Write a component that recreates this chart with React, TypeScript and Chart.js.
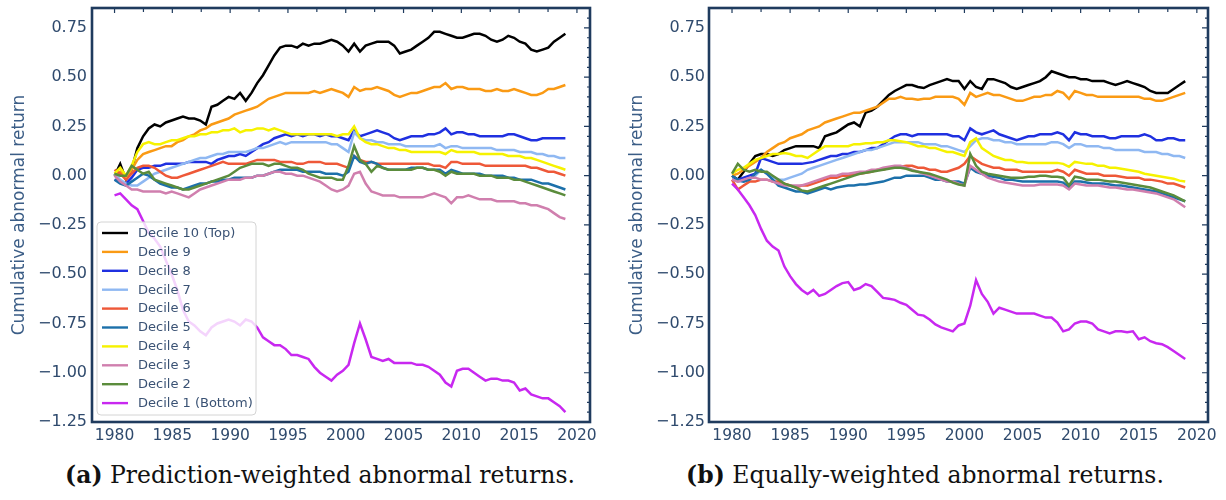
import React, { useEffect, useRef } from 'react';
import { Chart, registerables } from 'chart.js';
Chart.register(...registerables);

// ---------- categories / labels ----------
const yearsLeft = [
  1980.00, 1980.49, 1980.99, 1981.48, 1981.97, 1982.47, 1982.96, 1983.46, 1983.95, 1984.44,
  1984.94, 1985.43, 1985.92, 1986.42, 1986.91, 1987.41, 1987.90, 1988.39, 1988.89, 1989.38,
  1989.87, 1990.37, 1990.86, 1991.35, 1991.85, 1992.34, 1992.84, 1993.33, 1993.82, 1994.32,
  1994.81, 1995.30, 1995.80, 1996.29, 1996.78, 1997.28, 1997.77, 1998.27, 1998.76, 1999.25,
  1999.75, 2000.24, 2000.73, 2001.23, 2001.72, 2002.22, 2002.71, 2003.20, 2003.70, 2004.19,
  2004.68, 2005.18, 2005.67, 2006.16, 2006.66, 2007.15, 2007.65, 2008.14, 2008.63, 2009.13,
  2009.62, 2010.11, 2010.61, 2011.10, 2011.59, 2012.09, 2012.58, 2013.08, 2013.57, 2014.06,
  2014.56, 2015.05, 2015.54, 2016.04, 2016.53, 2017.03, 2017.52, 2018.01, 2018.51, 2019.00,
];
const yearsRight = [
  1980.0, 1980.5, 1981.0, 1981.5, 1982.0, 1982.5, 1983.0, 1983.5, 1984.0, 1984.5,
  1985.0, 1985.5, 1986.0, 1986.5, 1987.0, 1987.5, 1988.0, 1988.5, 1989.0, 1989.5,
  1990.0, 1990.5, 1991.0, 1991.5, 1992.0, 1992.5, 1993.0, 1993.5, 1994.0, 1994.5,
  1995.0, 1995.5, 1996.0, 1996.5, 1997.0, 1997.5, 1998.0, 1998.5, 1999.0, 1999.5,
  2000.0, 2000.5, 2001.0, 2001.5, 2002.0, 2002.5, 2003.0, 2003.5, 2004.0, 2004.5,
  2005.0, 2005.5, 2006.0, 2006.5, 2007.0, 2007.5, 2008.0, 2008.5, 2009.0, 2009.5,
  2010.0, 2010.5, 2011.0, 2011.5, 2012.0, 2012.5, 2013.0, 2013.5, 2014.0, 2014.5,
  2015.0, 2015.5, 2016.0, 2016.5, 2017.0, 2017.5, 2018.0, 2018.5, 2019.0,
];
const xTickValues = [1980, 1985, 1990, 1995, 2000, 2005, 2010, 2015, 2020];
const yTickValues = [0.75, 0.5, 0.25, 0, -0.25, -0.5, -0.75, -1.0, -1.25];
const topMinorTicks = [1980, 1982.5, 1985, 1987.5, 1990, 1992.5, 1995, 1997.5, 2000, 2002.5, 2005, 2007.5, 2010, 2012.5, 2015, 2017.5, 2020];
const decileLabels = [
  'Decile 10 (Top)', 'Decile 9', 'Decile 8', 'Decile 7', 'Decile 6',
  'Decile 5', 'Decile 4', 'Decile 3', 'Decile 2', 'Decile 1 (Bottom)',
];
const yTitle = 'Cumulative abnormal return';
const captionA = { tag: '(a)', text: ' Prediction-weighted abnormal returns.' };
const captionB = { tag: '(b)', text: ' Equally-weighted abnormal returns.' };

// ---------- (a) prediction-weighted series ----------
const pwD10 = [
  0.00, 0.06, -0.02, 0.03, 0.14, 0.20, 0.24, 0.26, 0.25, 0.27,
  0.28, 0.29, 0.30, 0.29, 0.29, 0.28, 0.26, 0.35, 0.36, 0.38,
  0.40, 0.39, 0.42, 0.38, 0.42, 0.47, 0.51, 0.56, 0.61, 0.65,
  0.66, 0.66, 0.65, 0.67, 0.66, 0.67, 0.67, 0.68, 0.69, 0.68,
  0.66, 0.63, 0.67, 0.63, 0.66, 0.67, 0.68, 0.68, 0.68, 0.66,
  0.62, 0.63, 0.64, 0.66, 0.68, 0.70, 0.73, 0.73, 0.72, 0.71,
  0.70, 0.70, 0.71, 0.72, 0.72, 0.71, 0.69, 0.68, 0.69, 0.71,
  0.70, 0.68, 0.67, 0.64, 0.63, 0.64, 0.65, 0.68, 0.70, 0.72,
];
const pwD9 = [
  0.00, 0.02, -0.01, 0.03, 0.08, 0.11, 0.12, 0.13, 0.14, 0.15,
  0.15, 0.17, 0.18, 0.20, 0.21, 0.23, 0.24, 0.26, 0.27, 0.28,
  0.29, 0.31, 0.32, 0.33, 0.34, 0.35, 0.37, 0.39, 0.40, 0.41,
  0.42, 0.42, 0.42, 0.42, 0.42, 0.43, 0.42, 0.43, 0.44, 0.43,
  0.42, 0.40, 0.45, 0.43, 0.44, 0.44, 0.45, 0.44, 0.43, 0.41,
  0.40, 0.41, 0.42, 0.42, 0.43, 0.44, 0.45, 0.45, 0.47, 0.44,
  0.45, 0.45, 0.44, 0.44, 0.44, 0.43, 0.43, 0.44, 0.43, 0.43,
  0.44, 0.43, 0.42, 0.41, 0.41, 0.42, 0.44, 0.44, 0.45, 0.46,
];
const pwD8 = [
  -0.02, -0.03, -0.04, -0.01, 0.03, 0.04, 0.04, 0.05, 0.05, 0.06,
  0.06, 0.06, 0.06, 0.07, 0.07, 0.07, 0.07, 0.06, 0.08, 0.09,
  0.10, 0.10, 0.11, 0.10, 0.12, 0.14, 0.16, 0.17, 0.19, 0.20,
  0.21, 0.20, 0.21, 0.20, 0.21, 0.21, 0.20, 0.21, 0.20, 0.20,
  0.19, 0.18, 0.23, 0.20, 0.21, 0.22, 0.23, 0.22, 0.21, 0.19,
  0.18, 0.19, 0.20, 0.20, 0.20, 0.21, 0.21, 0.22, 0.24, 0.21,
  0.22, 0.22, 0.21, 0.21, 0.20, 0.20, 0.20, 0.20, 0.20, 0.21,
  0.21, 0.20, 0.19, 0.18, 0.18, 0.19, 0.19, 0.19, 0.19, 0.19,
];
const pwD7 = [
  0.01, -0.02, -0.04, -0.05, -0.05, -0.03, -0.01, 0.01, 0.02, 0.03,
  0.04, 0.05, 0.06, 0.07, 0.08, 0.09, 0.09, 0.10, 0.11, 0.11,
  0.12, 0.12, 0.12, 0.12, 0.13, 0.14, 0.14, 0.15, 0.16, 0.17,
  0.16, 0.17, 0.17, 0.17, 0.17, 0.17, 0.17, 0.17, 0.16, 0.16,
  0.14, 0.12, 0.22, 0.19, 0.18, 0.18, 0.17, 0.17, 0.16, 0.16,
  0.16, 0.15, 0.15, 0.15, 0.15, 0.15, 0.15, 0.16, 0.14, 0.15,
  0.15, 0.14, 0.14, 0.14, 0.14, 0.14, 0.14, 0.13, 0.13, 0.13,
  0.13, 0.12, 0.12, 0.12, 0.11, 0.11, 0.10, 0.10, 0.09, 0.09,
];
const pwD6 = [
  0.03, 0.01, -0.02, 0.01, 0.04, 0.05, 0.05, 0.04, 0.02, 0.00,
  -0.01, -0.01, 0.00, 0.01, 0.02, 0.03, 0.04, 0.05, 0.06, 0.07,
  0.06, 0.06, 0.06, 0.06, 0.07, 0.08, 0.08, 0.08, 0.08, 0.07,
  0.07, 0.07, 0.06, 0.06, 0.07, 0.07, 0.07, 0.06, 0.06, 0.06,
  0.05, 0.04, 0.10, 0.08, 0.07, 0.07, 0.06, 0.06, 0.06, 0.06,
  0.06, 0.06, 0.06, 0.06, 0.06, 0.06, 0.05, 0.05, 0.04, 0.07,
  0.07, 0.06, 0.06, 0.06, 0.06, 0.05, 0.05, 0.05, 0.05, 0.05,
  0.05, 0.05, 0.05, 0.04, 0.04, 0.03, 0.02, 0.02, 0.01, 0.00,
];
const pwD5 = [
  -0.02, -0.04, -0.05, -0.03, -0.01, 0.01, 0.00, -0.02, -0.04, -0.05,
  -0.06, -0.06, -0.07, -0.06, -0.05, -0.04, -0.04, -0.03, -0.03, -0.02,
  -0.02, -0.01, -0.01, -0.01, -0.01, 0.00, 0.00, 0.01, 0.02, 0.03,
  0.03, 0.03, 0.03, 0.02, 0.02, 0.02, 0.02, 0.01, 0.01, 0.01,
  0.00, 0.02, 0.10, 0.07, 0.06, 0.07, 0.06, 0.04, 0.03, 0.03,
  0.03, 0.03, 0.04, 0.04, 0.04, 0.03, 0.03, 0.03, 0.01, 0.03,
  0.02, 0.01, 0.01, 0.01, 0.01, 0.00, 0.00, 0.00, 0.00, -0.01,
  -0.01, -0.02, -0.02, -0.02, -0.03, -0.04, -0.04, -0.05, -0.06, -0.07,
];
const pwD4 = [
  0.01, 0.04, 0.00, 0.05, 0.12, 0.16, 0.17, 0.16, 0.16, 0.17,
  0.18, 0.18, 0.19, 0.20, 0.20, 0.21, 0.21, 0.22, 0.22, 0.23,
  0.23, 0.24, 0.22, 0.23, 0.23, 0.24, 0.24, 0.23, 0.24, 0.23,
  0.22, 0.21, 0.21, 0.21, 0.21, 0.21, 0.21, 0.21, 0.21, 0.20,
  0.21, 0.21, 0.25, 0.19, 0.17, 0.16, 0.16, 0.15, 0.14, 0.14,
  0.13, 0.13, 0.12, 0.12, 0.12, 0.12, 0.12, 0.12, 0.11, 0.13,
  0.12, 0.12, 0.12, 0.12, 0.11, 0.11, 0.11, 0.11, 0.11, 0.10,
  0.10, 0.10, 0.09, 0.09, 0.08, 0.07, 0.06, 0.05, 0.04, 0.03,
];
const pwD3 = [
  0.00, -0.03, -0.05, -0.07, -0.07, -0.08, -0.08, -0.08, -0.08, -0.09,
  -0.08, -0.09, -0.10, -0.11, -0.09, -0.07, -0.06, -0.05, -0.04, -0.03,
  -0.02, -0.02, -0.02, -0.01, -0.01, 0.00, 0.00, 0.01, 0.02, 0.02,
  0.01, 0.01, 0.00, 0.00, -0.01, -0.02, -0.03, -0.05, -0.07, -0.08,
  -0.07, -0.05, 0.01, 0.02, -0.04, -0.08, -0.09, -0.10, -0.10, -0.10,
  -0.11, -0.11, -0.11, -0.11, -0.11, -0.10, -0.09, -0.10, -0.11, -0.14,
  -0.11, -0.11, -0.10, -0.11, -0.12, -0.12, -0.12, -0.13, -0.13, -0.13,
  -0.13, -0.14, -0.14, -0.15, -0.15, -0.16, -0.17, -0.19, -0.21, -0.22,
];
const pwD2 = [
  0.01, 0.00, 0.00, 0.05, 0.03, 0.01, 0.02, -0.02, -0.03, -0.04,
  -0.05, -0.06, -0.07, -0.07, -0.06, -0.05, -0.04, -0.03, -0.02, -0.01,
  0.00, 0.02, 0.04, 0.05, 0.06, 0.06, 0.06, 0.05, 0.06, 0.06,
  0.05, 0.04, 0.04, 0.03, 0.01, 0.00, -0.01, -0.01, -0.01, -0.02,
  -0.02, 0.05, 0.15, 0.08, 0.06, 0.02, 0.05, 0.04, 0.03, 0.03,
  0.03, 0.03, 0.03, 0.04, 0.04, 0.03, 0.03, 0.02, 0.00, 0.02,
  0.01, 0.01, 0.01, 0.01, 0.00, 0.00, 0.00, -0.01, -0.01, -0.01,
  -0.02, -0.02, -0.03, -0.04, -0.05, -0.06, -0.07, -0.08, -0.09, -0.10,
];
const pwD1 = [
  -0.10, -0.09, -0.12, -0.15, -0.17, -0.23, -0.29, -0.32, -0.36, -0.43,
  -0.50, -0.58, -0.68, -0.74, -0.76, -0.79, -0.81, -0.77, -0.75, -0.74,
  -0.73, -0.74, -0.76, -0.73, -0.74, -0.77, -0.82, -0.84, -0.86, -0.86,
  -0.88, -0.91, -0.91, -0.92, -0.93, -0.97, -1.00, -1.02, -1.04, -1.01,
  -0.99, -0.96, -0.85, -0.75, -0.83, -0.92, -0.93, -0.94, -0.93, -0.95,
  -0.95, -0.95, -0.95, -0.96, -0.96, -0.97, -0.99, -1.01, -1.05, -1.07,
  -0.99, -0.98, -0.98, -1.00, -1.02, -1.04, -1.03, -1.03, -1.04, -1.04,
  -1.05, -1.09, -1.08, -1.11, -1.12, -1.13, -1.13, -1.15, -1.17, -1.20,
];

// ---------- (b) equally-weighted series ----------
const ewD10 = [
  0.00, -0.02, 0.02, 0.06, 0.10, 0.11, 0.11, 0.10, 0.11, 0.13,
  0.14, 0.15, 0.15, 0.15, 0.15, 0.14, 0.20, 0.21, 0.22, 0.24,
  0.26, 0.27, 0.25, 0.32, 0.33, 0.35, 0.38, 0.41, 0.43, 0.445,
  0.46, 0.46, 0.45, 0.445, 0.46, 0.47, 0.48, 0.49, 0.48, 0.48,
  0.44, 0.48, 0.45, 0.44, 0.49, 0.49, 0.48, 0.47, 0.45, 0.44,
  0.45, 0.46, 0.47, 0.48, 0.50, 0.53, 0.52, 0.51, 0.50, 0.50,
  0.49, 0.49, 0.48, 0.48, 0.48, 0.47, 0.46, 0.47, 0.48, 0.47,
  0.46, 0.45, 0.43, 0.42, 0.42, 0.42, 0.44, 0.46, 0.48,
];
const ewD9 = [
  0.00, 0.01, 0.03, 0.05, 0.07, 0.09, 0.12, 0.14, 0.16, 0.17,
  0.19, 0.20, 0.21, 0.23, 0.24, 0.25, 0.27, 0.28, 0.29, 0.30,
  0.31, 0.32, 0.32, 0.33, 0.34, 0.35, 0.37, 0.39, 0.39, 0.40,
  0.39, 0.39, 0.385, 0.39, 0.39, 0.40, 0.40, 0.40, 0.40, 0.39,
  0.36, 0.42, 0.40, 0.41, 0.42, 0.41, 0.41, 0.40, 0.39, 0.38,
  0.38, 0.39, 0.40, 0.40, 0.41, 0.41, 0.43, 0.42, 0.39, 0.43,
  0.42, 0.41, 0.41, 0.40, 0.40, 0.40, 0.40, 0.40, 0.40, 0.40,
  0.40, 0.39, 0.39, 0.38, 0.38, 0.39, 0.40, 0.41, 0.42,
];
const ewD8 = [
  -0.02, -0.02, -0.01, 0.00, 0.01, 0.09, 0.08, 0.07, 0.06, 0.06,
  0.06, 0.06, 0.06, 0.065, 0.07, 0.08, 0.09, 0.10, 0.10, 0.11,
  0.11, 0.12, 0.12, 0.13, 0.14, 0.14, 0.16, 0.18, 0.20, 0.21,
  0.21, 0.20, 0.21, 0.21, 0.21, 0.21, 0.21, 0.21, 0.20, 0.20,
  0.18, 0.24, 0.22, 0.21, 0.22, 0.23, 0.21, 0.20, 0.19, 0.18,
  0.19, 0.20, 0.20, 0.21, 0.21, 0.21, 0.22, 0.21, 0.18, 0.22,
  0.21, 0.21, 0.20, 0.20, 0.20, 0.19, 0.19, 0.20, 0.20, 0.20,
  0.20, 0.21, 0.20, 0.18, 0.18, 0.19, 0.19, 0.18, 0.18,
];
const ewD7 = [
  -0.02, -0.03, -0.03, -0.02, 0.00, 0.03, 0.01, -0.01, -0.02, -0.02,
  -0.01, 0.00, 0.01, 0.03, 0.04, 0.05, 0.06, 0.07, 0.08, 0.09,
  0.10, 0.11, 0.12, 0.13, 0.13, 0.14, 0.15, 0.16, 0.17, 0.17,
  0.17, 0.17, 0.17, 0.16, 0.16, 0.16, 0.15, 0.15, 0.14, 0.13,
  0.12, 0.15, 0.18, 0.19, 0.19, 0.18, 0.18, 0.17, 0.17, 0.16,
  0.16, 0.16, 0.16, 0.16, 0.16, 0.17, 0.17, 0.16, 0.14, 0.16,
  0.16, 0.15, 0.15, 0.15, 0.14, 0.14, 0.13, 0.13, 0.13, 0.13,
  0.13, 0.12, 0.12, 0.12, 0.11, 0.11, 0.10, 0.10, 0.09,
];
const ewD6 = [
  -0.02, -0.07, -0.05, -0.03, -0.03, -0.02, -0.02, -0.03, -0.03, -0.04,
  -0.05, -0.06, -0.05, -0.05, -0.04, -0.03, -0.02, -0.01, -0.01, 0.00,
  0.00, 0.01, 0.01, 0.015, 0.02, 0.03, 0.03, 0.04, 0.04, 0.045,
  0.05, 0.05, 0.04, 0.04, 0.03, 0.03, 0.02, 0.02, 0.03, 0.04,
  0.06, 0.10, 0.08, 0.06, 0.05, 0.04, 0.04, 0.03, 0.03, 0.03,
  0.02, 0.02, 0.02, 0.02, 0.02, 0.02, 0.03, 0.02, 0.00, 0.03,
  0.02, 0.01, 0.01, 0.01, 0.00, 0.00, 0.00, -0.005, -0.01, -0.01,
  -0.01, -0.02, -0.02, -0.025, -0.03, -0.04, -0.04, -0.05, -0.06,
];
const ewD5 = [
  0.00, -0.02, -0.03, -0.02, 0.01, 0.03, 0.01, -0.02, -0.05, -0.06,
  -0.07, -0.08, -0.08, -0.09, -0.08, -0.07, -0.06, -0.07, -0.06, -0.055,
  -0.05, -0.05, -0.045, -0.045, -0.04, -0.035, -0.03, -0.02, -0.01, -0.01,
  0.00, 0.00, 0.00, 0.00, -0.01, -0.02, -0.02, -0.03, -0.03, -0.03,
  -0.04, 0.04, 0.02, 0.01, 0.00, -0.005, -0.01, -0.02, -0.02, -0.025,
  -0.03, -0.03, -0.03, -0.03, -0.03, -0.03, -0.03, -0.035, -0.06, -0.03,
  -0.03, -0.035, -0.04, -0.04, -0.04, -0.045, -0.05, -0.05, -0.055, -0.06,
  -0.065, -0.07, -0.075, -0.08, -0.09, -0.10, -0.11, -0.12, -0.13,
];
const ewD4 = [
  0.01, 0.03, 0.04, 0.06, 0.08, 0.09, 0.10, 0.11, 0.11, 0.115,
  0.11, 0.10, 0.10, 0.09, 0.11, 0.13, 0.15, 0.15, 0.15, 0.15,
  0.15, 0.16, 0.16, 0.165, 0.165, 0.17, 0.17, 0.18, 0.18, 0.175,
  0.17, 0.16, 0.15, 0.15, 0.14, 0.14, 0.13, 0.12, 0.12, 0.11,
  0.10, 0.17, 0.19, 0.14, 0.12, 0.10, 0.09, 0.08, 0.08, 0.07,
  0.07, 0.065, 0.065, 0.065, 0.065, 0.065, 0.065, 0.06, 0.045, 0.07,
  0.065, 0.06, 0.06, 0.05, 0.05, 0.04, 0.04, 0.035, 0.03, 0.025,
  0.02, 0.01, 0.005, 0.00, -0.005, -0.01, -0.015, -0.025, -0.03,
];
const ewD3 = [
  -0.02, -0.03, -0.02, -0.01, -0.01, -0.02, -0.02, -0.03, -0.04, -0.05,
  -0.05, -0.05, -0.05, -0.04, -0.03, -0.02, -0.01, 0.00, 0.00, 0.01,
  0.01, 0.015, 0.02, 0.02, 0.03, 0.03, 0.04, 0.045, 0.05, 0.05,
  0.04, 0.03, 0.02, 0.01, 0.00, -0.01, -0.02, -0.03, -0.03, -0.04,
  -0.05, 0.05, 0.03, 0.01, -0.01, -0.02, -0.03, -0.035, -0.04, -0.045,
  -0.05, -0.05, -0.05, -0.045, -0.045, -0.045, -0.045, -0.05, -0.07, -0.04,
  -0.045, -0.05, -0.05, -0.05, -0.055, -0.06, -0.06, -0.065, -0.07, -0.07,
  -0.075, -0.08, -0.085, -0.09, -0.10, -0.11, -0.12, -0.14, -0.16,
];
const ewD2 = [
  0.01, 0.06, 0.03, 0.02, 0.03, 0.02, 0.02, 0.00, -0.02, -0.04,
  -0.05, -0.06, -0.075, -0.08, -0.07, -0.06, -0.05, -0.04, -0.03, -0.02,
  -0.01, 0.00, 0.01, 0.015, 0.02, 0.025, 0.03, 0.035, 0.04, 0.04,
  0.035, 0.025, 0.02, 0.015, 0.01, 0.00, -0.01, -0.02, -0.035, -0.045,
  -0.05, 0.11, 0.05, 0.02, 0.01, 0.005, 0.00, -0.005, -0.01, -0.01,
  -0.01, -0.005, -0.005, 0.00, 0.00, -0.005, -0.005, -0.01, -0.05, -0.005,
  -0.01, -0.02, -0.02, -0.02, -0.025, -0.03, -0.03, -0.035, -0.04, -0.045,
  -0.05, -0.055, -0.06, -0.07, -0.08, -0.09, -0.10, -0.115, -0.13,
];
const ewD1 = [
  -0.04, -0.07, -0.11, -0.15, -0.20, -0.27, -0.33, -0.36, -0.38, -0.46,
  -0.51, -0.55, -0.58, -0.60, -0.58, -0.61, -0.60, -0.58, -0.56, -0.545,
  -0.54, -0.58, -0.57, -0.55, -0.56, -0.59, -0.62, -0.625, -0.63, -0.645,
  -0.655, -0.68, -0.705, -0.71, -0.73, -0.755, -0.77, -0.78, -0.79, -0.76,
  -0.75, -0.66, -0.53, -0.60, -0.64, -0.70, -0.67, -0.68, -0.69, -0.70,
  -0.70, -0.70, -0.70, -0.71, -0.72, -0.72, -0.745, -0.79, -0.78, -0.75,
  -0.74, -0.74, -0.75, -0.78, -0.79, -0.80, -0.79, -0.79, -0.795, -0.79,
  -0.83, -0.82, -0.84, -0.85, -0.855, -0.87, -0.89, -0.91, -0.93,
];

const pwSeries = [pwD10, pwD9, pwD8, pwD7, pwD6, pwD5, pwD4, pwD3, pwD2, pwD1];
const ewSeries = [ewD10, ewD9, ewD8, ewD7, ewD6, ewD5, ewD4, ewD3, ewD2, ewD1];

// ---------- styles ----------
const lineColors = [
  '#000000', '#fa9a14', '#1f30e0', '#8fb8f2', '#ee5838',
  '#1c70aa', '#f6f200', '#d07fae', '#5b8c3c', '#c828f0',
];
const SANS = "'DejaVu Sans', sans-serif";
const SERIF = "'DejaVu Serif', serif";
const TICK_COLOR = '#2f4a6d';
const TITLE_COLOR = '#3b5d86';
const FRAME_COLOR = '#1f3b5e';
const LEGEND_TEXT = '#3a5274';

const fmtY = (v: number) => (v < 0 ? '\u2212' : '') + Math.abs(v).toFixed(2);

function makeFramePlugin(withLegend: boolean) {
  return {
    id: 'frameLegend',
    afterDatasetsDraw(chart: any) {
      const { ctx, chartArea } = chart;
      const { left, right, top, bottom } = chartArea;
      const xs = chart.scales.x;
      const ys = chart.scales.y;
      ctx.save();
      ctx.strokeStyle = FRAME_COLOR;
      ctx.lineWidth = 1.2;
      ctx.beginPath();
      for (const t of topMinorTicks) {
        const px = xs.getPixelForValue(t);
        ctx.moveTo(px, top);
        ctx.lineTo(px, top + (t % 5 === 0 ? 5 : 4));
      }
      for (let k = 0; k <= 50; k++) {
        const v = -1.25 + k * 0.05;
        if (v > ys.max) break;
        const py = ys.getPixelForValue(v);
        const major = k % 5 === 0;
        ctx.moveTo(right, py);
        ctx.lineTo(right - (major ? 6 : 3), py);
      }
      ctx.stroke();

      if (withLegend) {
        const bw = 159;
        const bh = 193;
        const bx = left + 5;
        const by = bottom - 7 - bh;
        ctx.beginPath();
        if (ctx.roundRect) ctx.roundRect(bx, by, bw, bh, 4);
        else ctx.rect(bx, by, bw, bh);
        ctx.fillStyle = 'rgba(255,255,255,0.8)';
        ctx.fill();
        ctx.strokeStyle = '#d4d4d4';
        ctx.lineWidth = 1;
        ctx.stroke();
        ctx.font = `13px ${SANS}`;
        ctx.textBaseline = 'middle';
        ctx.textAlign = 'left';
        chart.data.datasets.forEach((ds: any, i: number) => {
          const cy = by + 11 + i * 18.9;
          ctx.strokeStyle = ds.borderColor;
          ctx.lineWidth = 2.4;
          ctx.beginPath();
          ctx.moveTo(bx + 5, cy);
          ctx.lineTo(bx + 31, cy);
          ctx.stroke();
          ctx.fillStyle = LEGEND_TEXT;
          ctx.fillText(ds.label, bx + 41, cy + 0.5);
        });
      }

      ctx.strokeStyle = FRAME_COLOR;
      ctx.lineWidth = 2.6;
      ctx.strokeRect(left, top, right - left, bottom - top);
      ctx.restore();
    },
  };
}

interface PanelProps {
  years: number[];
  series: number[][];
  xMin: number;
  xMax: number;
  yAxisWidth: number;
  titlePad: number;
  tickPad: number;
  padRight: number;
  withLegend: boolean;
  width: number;
  height: number;
}

function Panel(p: PanelProps) {
  const ref = useRef<HTMLCanvasElement | null>(null);
  useEffect(() => {
    if (!ref.current) return;
    const chart = new Chart(ref.current, {
      type: 'line',
      data: {
        datasets: p.series.map((s, i) => ({
          label: decileLabels[i],
          data: p.years.map((x, j) => ({ x, y: s[j] })),
          borderColor: lineColors[i],
          backgroundColor: lineColors[i],
          borderWidth: 2.5,
          pointRadius: 0,
          tension: 0,
          fill: false,
          order: 10 - i,
        })),
      },
      options: {
        animation: false,
        responsive: false,
        devicePixelRatio: 1,
        events: [],
        layout: { padding: { left: 0, right: p.padRight, top: 8, bottom: 0 } },
        plugins: { legend: { display: false }, tooltip: { enabled: false } },
        scales: {
          x: {
            type: 'linear',
            min: p.xMin,
            max: p.xMax,
            grid: { display: false, drawTicks: false },
            border: { display: false },
            afterBuildTicks: (s: any) => {
              s.ticks = xTickValues.map((v) => ({ value: v }));
            },
            afterFit: (s: any) => {
              s.height = 28;
              s.paddingLeft = 0;
              s.paddingRight = 0;
            },
            ticks: {
              color: TICK_COLOR,
              font: { family: SANS, size: 15.5 },
              padding: 5,
              maxRotation: 0,
              autoSkip: false,
              callback: (v: any) => String(v),
            },
          },
          y: {
            type: 'linear',
            min: -1.25,
            max: 0.851,
            grid: { display: false, drawTicks: false },
            border: { display: false },
            afterBuildTicks: (s: any) => {
              s.ticks = yTickValues.map((v) => ({ value: v }));
            },
            afterFit: (s: any) => {
              s.width = p.yAxisWidth;
              s.paddingTop = 0;
              s.paddingBottom = 0;
            },
            title: {
              display: true,
              text: yTitle,
              color: TITLE_COLOR,
              font: { family: SANS, size: 17 },
              padding: { top: p.titlePad, bottom: 0 },
            },
            ticks: {
              color: TICK_COLOR,
              font: { family: SANS, size: 16 },
              padding: p.tickPad,
              autoSkip: false,
              callback: (v: any) => fmtY(Number(v)),
            },
          },
        },
      },
      plugins: [makeFramePlugin(p.withLegend)],
    } as any);
    return () => chart.destroy();
  }, []);
  return <canvas ref={ref} width={p.width} height={p.height} style={{ width: p.width, height: p.height, display: 'block' }} />;
}

const captionStyle: React.CSSProperties = {
  position: 'absolute',
  top: 462,
  fontFamily: SERIF,
  fontSize: 23.5,
  lineHeight: '26px',
  color: '#111',
  textAlign: 'center',
  whiteSpace: 'nowrap',
};

export default function App() {
  return (
    <div style={{ position: 'absolute', left: 0, top: 0, width: 1226, height: 500, background: '#fff', overflow: 'hidden' }}>
      <div style={{ position: 'absolute', left: 0, top: 0 }}>
        <Panel years={yearsLeft} series={pwSeries} xMin={1978.05} xMax={2021.13} yAxisWidth={92} titlePad={9} tickPad={5} padRight={15} withLegend={true} width={605} height={450} />
      </div>
      <div style={{ position: 'absolute', left: 615, top: 0 }}>
        <Panel years={yearsRight} series={ewSeries} xMin={1978.02} xMax={2020.96} yAxisWidth={94} titlePad={12} tickPad={4} padRight={18} withLegend={false} width={611} height={450} />
      </div>
      <div style={{ ...captionStyle, left: 20, width: 600 }}>
        <b>{captionA.tag}</b>{captionA.text}
      </div>
      <div style={{ ...captionStyle, left: 625, width: 600 }}>
        <b>{captionB.tag}</b>{captionB.text}
      </div>
    </div>
  );
}
